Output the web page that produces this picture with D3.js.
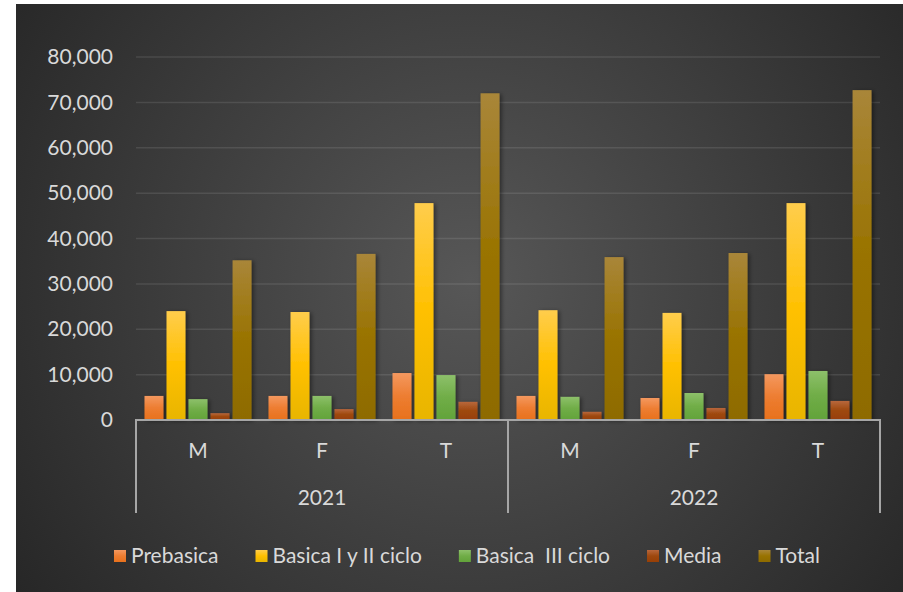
<!DOCTYPE html>
<html>
<head>
<meta charset="utf-8">
<script src="https://cdn.jsdelivr.net/npm/d3@7"></script>
<style>
  body { margin: 0; background: #fff; }
  text { font-family: Lato, "Open Sans", sans-serif; fill: #d9d9d9; }
</style>
</head>
<body>
<div id="chart"></div>
<script>
const width = 903, height = 592;

// data
const years = ["2021", "2022"];
const sexes = ["M", "F", "T"];
const series = ["Prebasica", "Basica I y II ciclo", "Basica  III ciclo", "Media", "Total"];
const prebasica = [5300, 5300, 10350, 5300, 4850, 10100];
const basica12 = [24000, 23800, 47800, 24200, 23600, 47800];
const basica3 = [4600, 5300, 9900, 5100, 5950, 10800];
const media = [1500, 2400, 4000, 1800, 2650, 4200];
const total = [35200, 36600, 72000, 35900, 36800, 72700];
const yTicks = [0, 10000, 20000, 30000, 40000, 50000, 60000, 70000, 80000];

const colors = [
  ["#f4985f", "#ed7d31", "#e8711c"],
  ["#ffcd4c", "#ffc000", "#e8b500"],
  ["#8dc06a", "#70ad47", "#62a33a"],
  ["#b8673c", "#9e480e", "#983f06"],
  ["#a98639", "#997300", "#8e6b00"]
];

const values = [prebasica, basica12, basica3, media, total];
const cats = [];
years.forEach(y => sexes.forEach(s => cats.push(y + "|" + s)));

const margin = { top: 57, bottom: 172, left: 136, right: 23 };

const svg = d3.select("#chart").append("svg")
  .attr("width", width).attr("height", height);

const defs = svg.append("defs");
const bg = defs.append("radialGradient").attr("id", "bg")
  .attr("gradientUnits", "userSpaceOnUse")
  .attr("cx", 470).attr("cy", 280).attr("r", 560);
bg.append("stop").attr("offset", "0%").attr("stop-color", "#575757");
bg.append("stop").attr("offset", "100%").attr("stop-color", "#262626");

colors.forEach((c, i) => {
  const g = defs.append("linearGradient").attr("id", "g" + i)
    .attr("x1", 0).attr("y1", 0).attr("x2", 0).attr("y2", 1);
  g.append("stop").attr("offset", "0%").attr("stop-color", c[0]);
  g.append("stop").attr("offset", "50%").attr("stop-color", c[1]);
  g.append("stop").attr("offset", "100%").attr("stop-color", c[2]);
});

defs.append("filter").attr("id", "shadow")
  .attr("x", "-20%").attr("y", "-5%").attr("width", "160%").attr("height", "115%")
  .append("feDropShadow")
  .attr("dx", 2).attr("dy", 1).attr("stdDeviation", 2)
  .attr("flood-color", "#000").attr("flood-opacity", 0.45);

svg.append("rect")
  .attr("x", 16).attr("y", 4)
  .attr("width", width - 16).attr("height", height - 4)
  .attr("fill", "url(#bg)");

const x0 = d3.scaleBand().domain(cats)
  .range([margin.left, width - margin.right]);
const x1 = d3.scaleBand().domain(series)
  .range([0, 107]).paddingInner(0.14);
const inset = (x0.bandwidth() - 107) / 2;

const y = d3.scaleLinear().domain([0, 80000])
  .range([height - margin.bottom, margin.top]);

// gridlines
svg.append("g")
  .selectAll("line")
  .data(yTicks.filter(d => d > 0))
  .join("line")
  .attr("x1", margin.left).attr("x2", width - margin.right)
  .attr("y1", d => y(d)).attr("y2", d => y(d))
  .attr("stroke", "#ffffff").attr("stroke-opacity", 0.1)
  .attr("stroke-width", 1.5);

// y axis labels
const yAxis = d3.axisLeft(y).tickValues(yTicks)
  .tickFormat(d3.format(",")).tickSize(0).tickPadding(0);
const ya = svg.append("g")
  .attr("transform", `translate(113,0)`)
  .call(yAxis);
ya.select(".domain").remove();
ya.selectAll("text")
  .attr("font-size", 21)
  .attr("fill", "#d9d9d9")
  .attr("font-family", "Lato, sans-serif");

// bars
const rows = [];
cats.forEach((c, ci) => series.forEach((s, si) => {
  rows.push({ cat: c, s: s, si: si, v: values[si][ci] });
}));

svg.append("g").attr("filter", "url(#shadow)")
  .selectAll("rect")
  .data(rows)
  .join("rect")
  .attr("x", d => x0(d.cat) + inset + x1(d.s))
  .attr("width", x1.bandwidth())
  .attr("y", d => y(d.v))
  .attr("height", d => y(0) - y(d.v))
  .attr("fill", d => `url(#g${d.si})`);

// category axis
const axisCol = "#a6a6a6";
const y0 = y(0);
svg.append("line")
  .attr("x1", margin.left - 1).attr("x2", width - margin.right + 1)
  .attr("y1", y0).attr("y2", y0)
  .attr("stroke", axisCol).attr("stroke-width", 2);

const dividers = [x0(cats[0]), x0(cats[3]), x0(cats[5]) + x0.bandwidth()];
svg.append("g").selectAll("line")
  .data(dividers)
  .join("line")
  .attr("x1", d => d).attr("x2", d => d)
  .attr("y1", y0).attr("y2", 513)
  .attr("stroke", axisCol).attr("stroke-width", 2);

svg.append("g").selectAll("text")
  .data(cats)
  .join("text")
  .attr("x", d => x0(d) + x0.bandwidth() / 2)
  .attr("y", 451)
  .attr("dy", "0.35em")
  .attr("text-anchor", "middle")
  .attr("font-size", 21)
  .text(d => d.split("|")[1]);

svg.append("g").selectAll("text")
  .data(years)
  .join("text")
  .attr("x", (d, i) => (dividers[i] + dividers[i + 1]) / 2)
  .attr("y", 498)
  .attr("dy", "0.35em")
  .attr("text-anchor", "middle")
  .attr("font-size", 21)
  .text(d => d);

// legend
const legend = svg.append("g");
const items = legend.selectAll("g")
  .data(series)
  .join("g");
items.append("rect")
  .attr("width", 12).attr("height", 12)
  .attr("y", -6)
  .attr("fill", (d, i) => `url(#g${i})`);
items.append("text")
  .attr("x", 17)
  .attr("dy", "0.35em")
  .attr("font-size", 21)
  .attr("xml:space", "preserve")
  .style("white-space", "pre")
  .text(d => d);

const gap = 37;
let cx = 0;
items.each(function () {
  const g = d3.select(this);
  g.attr("transform", `translate(${cx},0)`);
  cx += 17 + g.select("text").node().getComputedTextLength() + gap;
});
const legendW = cx - gap;
legend.attr("transform", `translate(${467 - legendW / 2},556)`);
</script>
</body>
</html>
